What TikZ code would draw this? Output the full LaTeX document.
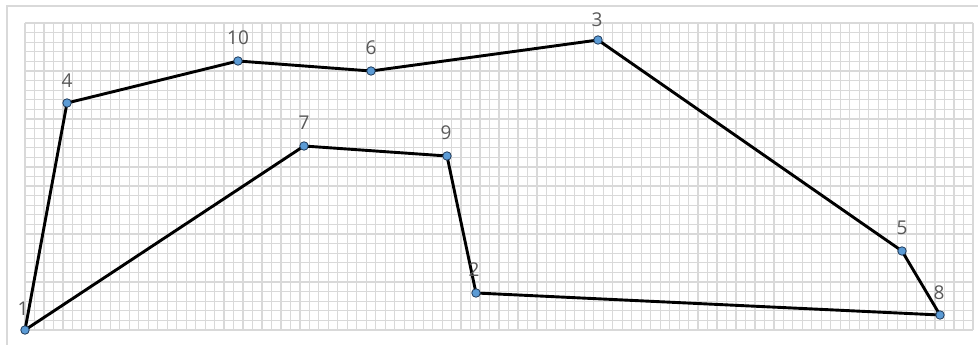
\documentclass[tikz,border=0pt]{standalone}
\usepackage{fontspec}
\setmainfont{Open Sans}
\definecolor{gridgrey}{HTML}{D9D9D9}
\definecolor{ptblue}{HTML}{5B9BD5}
\definecolor{ptedge}{HTML}{1F3A5A}
\definecolor{labgrey}{HTML}{595959}
\tikzset{
  pt/.style={circle,fill=ptblue,draw=ptedge,line width=0.8pt,inner sep=0pt,minimum size=8.5pt},
  lab/.style={text=labgrey,font=\fontsize{19}{19}\selectfont,inner sep=0pt,anchor=center},
  edge/.style={line width=2.9pt,line join=round,line cap=round},
}
\begin{document}
\begin{tikzpicture}[x=1pt,y=-1pt]
\useasboundingbox (0,0) rectangle (978,345);
\fill[white] (0,0) rectangle (978,345);
% frame
\draw[gridgrey,line width=2pt] (7,345) -- (7,6) -- (978,6);
% grid
\foreach \i in {0,...,100} {
  \draw[gridgrey,line width=1.2pt] ({25+\i*9.48},23) -- ({25+\i*9.48},330);
}
\foreach \j in {0,...,32} {
  \draw[gridgrey,line width=1.2pt] (25,{23+\j*9.594}) -- (973,{23+\j*9.594});
}
% points
\coordinate (p1) at (25,330);
\coordinate (p2) at (476,293);
\coordinate (p3) at (598,40);
\coordinate (p4) at (67,103);
\coordinate (p5) at (902,251);
\coordinate (p6) at (371,71);
\coordinate (p7) at (304,146);
\coordinate (p8) at (940,315);
\coordinate (p9) at (447,156);
\coordinate (p10) at (238,61);
\draw[edge] (p1) -- (p4) -- (p10) -- (p6) -- (p3) -- (p5) -- (p8) -- (p2) -- (p9) -- (p7) -- cycle;
\foreach \k in {1,...,10} { \node[pt] (n\k) at (p\k) {}; }
\node[lab] (l1) at (23,309) {1};
\node[lab] (l2) at (474,270) {2};
\node[lab] (l3) at (597,20) {3};
\node[lab] (l4) at (67,81) {4};
\node[lab] (l5) at (902,228) {5};
\node[lab] (l6) at (371,48) {6};
\node[lab] (l7) at (304,123) {7};
\node[lab] (l8) at (939,293) {8};
\node[lab] (l9) at (446,133) {9};
\node[lab] (l10) at (238,38) {10};
\end{tikzpicture}
\end{document}
